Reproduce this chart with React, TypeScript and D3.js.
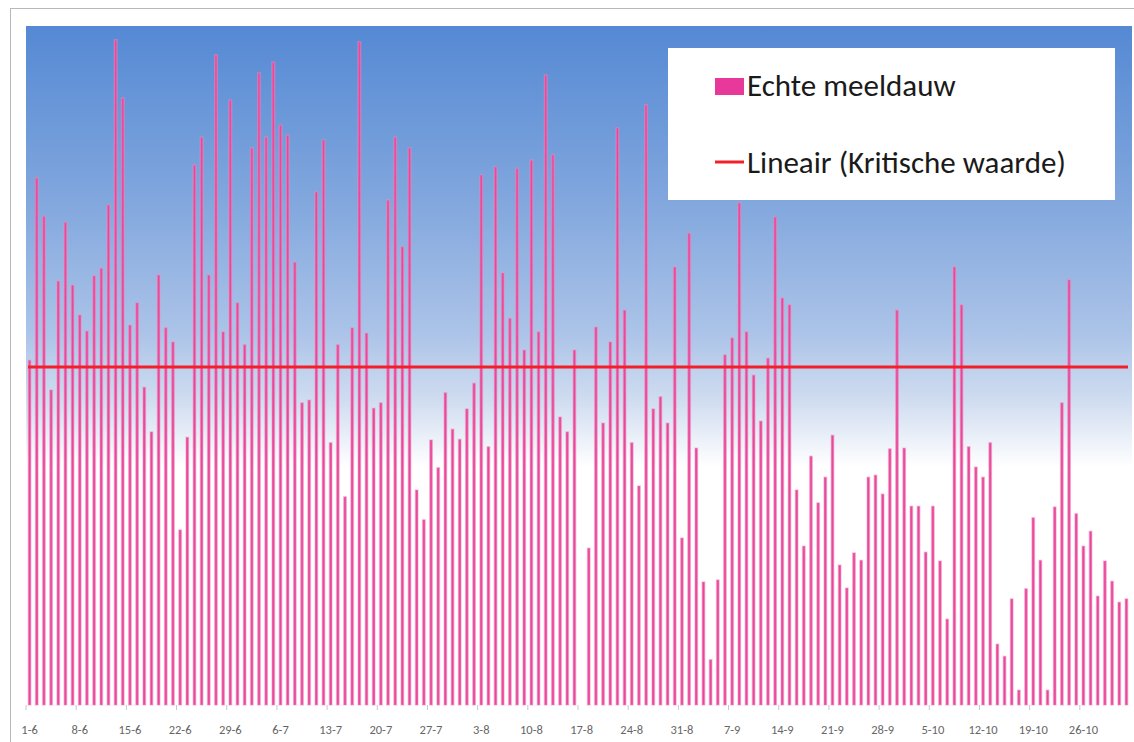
import React, { useEffect, useRef } from 'react';
import * as d3 from 'd3';

const WIDTH = 1134;
const HEIGHT = 742;

// daily values, 1 June through 1 November
const values: number[] = [
  51, 78.0, 72.3, 46.6, 62.7, 71.4, 62.1, 57.7, 55.3, 63.5,
  64.6, 74.0, 98.4, 89.8, 56.2, 59.5, 47.0, 40.4, 63.6, 55.8,
  53.7, 25.9, 39.6, 79.9, 84.0, 63.6, 96.2, 55.2, 89.5, 59.5,
  53.3, 82.4, 93.5, 84.0, 95.1, 85.8, 84.3, 65.5, 44.7, 45.1,
  75.9, 83.6, 38.8, 53.3, 30.8, 55.8, 98.1, 55.0, 43.9, 44.7,
  74.7, 84.0, 67.8, 82.4, 31.8, 27.4, 39.2, 35.1, 46.2, 40.8,
  39.3, 43.8, 47.6, 78.4, 38.2, 79.6, 63.9, 57.2, 79.4, 52.5,
  80.6, 55.2, 93.2, 81.4, 42.6, 40.4, 52.5, 0, 23.2, 55.9,
  41.7, 53.7, 85.4, 58.4, 38.8, 32.4, 88.8, 43.8, 45.6, 41.7,
  64.8, 24.7, 69.8, 38.0, 18.2, 6.7, 18.5, 51.8, 54.3, 74.3,
  55.2, 48.8, 42.0, 51.3, 72.2, 60.2, 59.2, 31.8, 23.5, 36.8,
  29.9, 33.7, 39.9, 20.7, 17.3, 22.5, 21.4, 33.7, 34.0, 31.2,
  37.9, 58.4, 38.0, 29.4, 29.4, 22.6, 29.4, 21.3, 12.7, 64.8,
  59.2, 38.2, 35.2, 33.7, 38.8, 9.0, 7.2, 15.7, 2.2, 17.2,
  27.7, 21.4, 2.2, 29.3, 44.7, 62.9, 28.3, 23.5, 25.7, 16.1,
  21.3, 18.3, 15.2, 15.7,
];

const criticalValue = 50;
const yMax = 100;

const tickLabels = [
  '1-6', '8-6', '15-6', '22-6', '29-6', '6-7', '13-7', '20-7', '27-7', '3-8', '10-8',
  '17-8', '24-8', '31-8', '7-9', '14-9', '21-9', '28-9', '5-10', '12-10', '19-10', '26-10',
];

const seriesName = 'Echte meeldauw';
const lineName = 'Lineair (Kritische waarde)';

const startDate = new Date(2013, 5, 1);
const fmt = d3.timeFormat('%-d-%-m');
const categories = values.map((_, i) => fmt(d3.timeDay.offset(startDate, i)));

export default function App() {
  const svgRef = useRef<SVGSVGElement>(null);

  useEffect(() => {
    const svg = d3.select(svgRef.current);
    svg.selectAll('*').remove();

    const plot = { left: 26, right: 1130, top: 26, bottom: 705 };
    const font = 'Carlito, Calibri, "Open Sans", sans-serif';

    // outer chart frame
    svg.append('rect')
      .attr('x', 10.5).attr('y', 8.5)
      .attr('width', WIDTH).attr('height', HEIGHT)
      .attr('fill', '#ffffff')
      .attr('stroke', '#b8b8b8');

    const defs = svg.append('defs');
    const grad = defs.append('linearGradient')
      .attr('id', 'plot-bg')
      .attr('x1', 0).attr('y1', 0).attr('x2', 0).attr('y2', 1);
    [
      ['0%', '#5589d4'],
      ['25%', '#80a6dd'],
      ['45%', '#abc3e8'],
      ['55%', '#cfdcf0'],
      ['65%', '#ffffff'],
      ['100%', '#ffffff'],
    ].forEach(([o, c]) => grad.append('stop').attr('offset', o).attr('stop-color', c));

    svg.append('rect')
      .attr('x', plot.left).attr('y', plot.top)
      .attr('width', plot.right - plot.left + 2).attr('height', plot.bottom - plot.top)
      .attr('fill', 'url(#plot-bg)');

    const x = d3.scaleBand<string>()
      .domain(categories)
      .range([plot.left, plot.right])
      .padding(0);

    const y = d3.scaleLinear()
      .domain([0, yMax])
      .range([plot.bottom, 29]);

    const barW = 2.6;
    svg.append('g')
      .selectAll('rect')
      .data(values)
      .enter().append('rect')
      .attr('x', (_, i) => x(categories[i])! + x.bandwidth() / 2 - barW / 2)
      .attr('y', d => y(d))
      .attr('width', barW)
      .attr('height', d => plot.bottom - y(d))
      .attr('fill', '#e8489a')
      .attr('stroke', 'rgba(244,140,190,0.45)')
      .attr('stroke-width', 1.4);

    // critical value line
    svg.append('line')
      .attr('x1', plot.left + 2).attr('x2', plot.right - 2)
      .attr('y1', y(criticalValue)).attr('y2', y(criticalValue))
      .attr('stroke', '#f3202a')
      .attr('stroke-width', 3);

    // x axis ticks + labels
    const axis = svg.append('g');
    tickLabels.forEach(lbl => {
      const px = x(lbl)!;
      axis.append('line')
        .attr('x1', px).attr('x2', px)
        .attr('y1', plot.bottom).attr('y2', plot.bottom + 5)
        .attr('stroke', '#c8c8c8');
      axis.append('text')
        .attr('x', px + x.bandwidth() / 2)
        .attr('y', 734)
        .attr('text-anchor', 'middle')
        .attr('font-family', font)
        .attr('font-size', 12.5)
        .attr('fill', '#666666')
        .text(lbl);
    });

    // legend
    const lg = svg.append('g');
    lg.append('rect')
      .attr('x', 668).attr('y', 48)
      .attr('width', 447).attr('height', 152)
      .attr('fill', '#ffffff');
    lg.append('rect')
      .attr('x', 715).attr('y', 78)
      .attr('width', 29).attr('height', 17)
      .attr('fill', '#e8389a');
    lg.append('text')
      .attr('x', 747).attr('y', 96)
      .attr('font-family', font)
      .attr('font-size', 31)
      .attr('fill', '#1a1a1a')
      .text(seriesName);
    lg.append('line')
      .attr('x1', 715).attr('x2', 744)
      .attr('y1', 162).attr('y2', 162)
      .attr('stroke', '#f3202a')
      .attr('stroke-width', 3);
    lg.append('text')
      .attr('x', 747).attr('y', 173)
      .attr('font-family', font)
      .attr('font-size', 31)
      .attr('fill', '#1a1a1a')
      .text(lineName);
  }, []);

  return (
    <svg
      ref={svgRef}
      width={WIDTH}
      height={HEIGHT}
      style={{ position: 'absolute', left: 0, top: 0, background: '#ffffff' }}
    />
  );
}
